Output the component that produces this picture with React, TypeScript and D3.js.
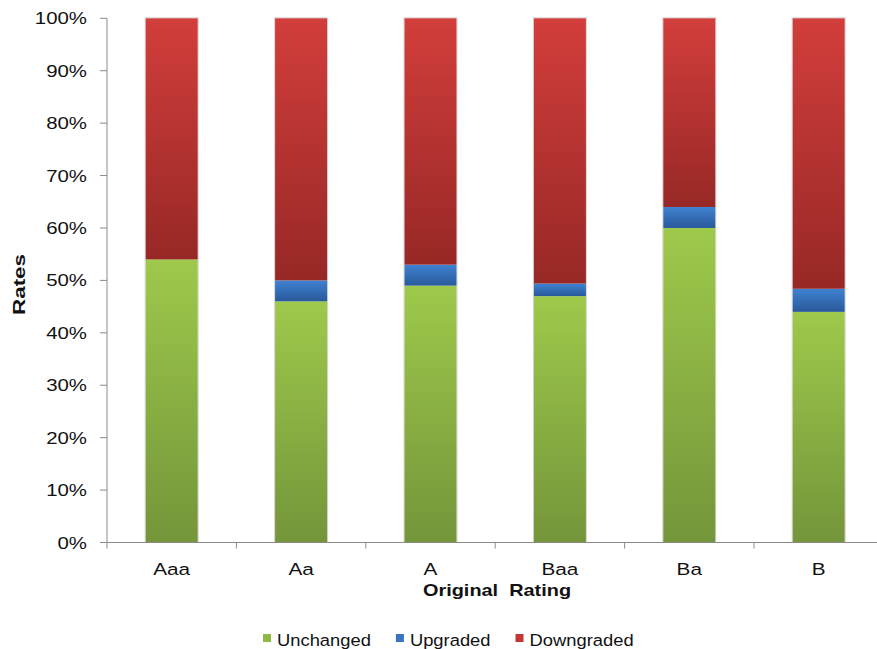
import React, { useEffect, useRef } from "react";
import * as d3 from "d3";

// Rating-migration shares (%) per original rating
const categories = ["Aaa", "Aa", "A", "Baa", "Ba", "B"];
const unchanged = [54, 46, 49, 47, 60, 44];
const upgraded = [0, 4, 4, 2.4, 4, 4.4];
const downgraded = [46, 50, 47, 50.6, 36, 51.6];
const seriesNames = ["Unchanged", "Upgraded", "Downgraded"];
const yTicks = [0, 10, 20, 30, 40, 50, 60, 70, 80, 90, 100];

const W = 877;
const H = 649;
const FONT = "'Liberation Sans', Arial, sans-serif";

const palette = [
  { light: "#9ec94b", dark: "#74953a", swatch: "#8cb844" },
  { light: "#3f82d2", dark: "#29599a", swatch: "#3a74bf" },
  { light: "#d23e3b", dark: "#972826", swatch: "#c43636" },
];

export default function App() {
  const ref = useRef<SVGSVGElement | null>(null);

  useEffect(() => {
    const svg = d3.select(ref.current);
    svg.selectAll("*").remove();

    const x = d3
      .scaleBand<string>()
      .domain(categories)
      .range([107, 883.4])
      .paddingInner(0.598)
      .paddingOuter(0.299);
    const y = d3.scaleLinear().domain([0, 100]).range([542.5, 18.3]);

    const defs = svg.append("defs");
    palette.forEach((p, i) => {
      const g = defs
        .append("linearGradient")
        .attr("id", `grad${i}`)
        .attr("x1", 0)
        .attr("y1", 0)
        .attr("x2", 0)
        .attr("y2", 1);
      g.append("stop").attr("offset", "0%").attr("stop-color", p.light);
      g.append("stop").attr("offset", "100%").attr("stop-color", p.dark);
    });

    const rows = categories.map((c, i) => ({
      cat: c,
      Unchanged: unchanged[i],
      Upgraded: upgraded[i],
      Downgraded: downgraded[i],
    }));
    const stacked = d3.stack<any>().keys(seriesNames)(rows);

    const axisColor = "#8a8a8a";

    // bar outlines (soft edge)
    svg
      .append("g")
      .selectAll("rect")
      .data(rows)
      .join("rect")
      .attr("x", (d) => x(d.cat)! - 0.5)
      .attr("y", y(100) - 0.5)
      .attr("width", x.bandwidth() + 1)
      .attr("height", y(0) - y(100) + 0.5)
      .attr("fill", "none")
      .attr("stroke", "#d4d4d4")
      .attr("stroke-width", 1);

    stacked.forEach((layer, si) => {
      svg
        .append("g")
        .selectAll("rect")
        .data(layer.filter((d) => d[1] - d[0] > 0))
        .join("rect")
        .attr("x", (d) => x(d.data.cat)!)
        .attr("y", (d) => y(d[1]))
        .attr("width", x.bandwidth())
        .attr("height", (d) => y(d[0]) - y(d[1]))
        .attr("fill", `url(#grad${si})`);
    });

    // y axis
    const ya = svg.append("g");
    ya.append("line")
      .attr("x1", 107)
      .attr("x2", 107)
      .attr("y1", y(100))
      .attr("y2", y(0))
      .attr("stroke", axisColor);
    yTicks.forEach((t) => {
      ya.append("line")
        .attr("x1", 100)
        .attr("x2", 107)
        .attr("y1", y(t))
        .attr("y2", y(t))
        .attr("stroke", axisColor);
      ya.append("text")
        .attr("transform", `translate(87,${y(t) + 6}) scale(1.2,1)`)
        .attr("text-anchor", "end")
        .attr("font-family", FONT)
        .attr("font-size", 17)
        .attr("fill", "#111")
        .text(`${t}%`);
    });

    // x axis
    const xa = svg.append("g");
    xa.append("line")
      .attr("x1", 107)
      .attr("x2", W)
      .attr("y1", y(0))
      .attr("y2", y(0))
      .attr("stroke", axisColor);
    const step = x.step();
    d3.range(categories.length + 1).forEach((i) => {
      const px = 107 + i * step;
      xa.append("line")
        .attr("x1", px)
        .attr("x2", px)
        .attr("y1", y(0))
        .attr("y2", y(0) + 6)
        .attr("stroke", axisColor);
    });
    categories.forEach((c) => {
      xa.append("text")
        .attr(
          "transform",
          `translate(${x(c)! + x.bandwidth() / 2},${y(0) + 32.5}) scale(1.22,1)`
        )
        .attr("text-anchor", "middle")
        .attr("font-family", FONT)
        .attr("font-size", 17)
        .attr("fill", "#111")
        .text(c);
    });

    // axis titles
    svg
      .append("text")
      .attr("transform", `translate(497,596) scale(1.17,1)`)
      .attr("text-anchor", "middle")
      .attr("font-family", FONT)
      .attr("font-size", 17)
      .attr("font-weight", "bold")
      .attr("fill", "#111")
      .attr("xml:space", "preserve")
      .text("Original  Rating");

    svg
      .append("text")
      .attr("transform", `translate(24.5,284.5) rotate(-90) scale(1.36,1)`)
      .attr("text-anchor", "middle")
      .attr("font-family", FONT)
      .attr("font-size", 16.5)
      .attr("font-weight", "bold")
      .attr("fill", "#111")
      .text("Rates");

    // legend
    const lg = svg.append("g");
    let cx = 263;
    const lscale = 1.08;
    seriesNames.forEach((name, i) => {
      lg.append("rect")
        .attr("x", cx)
        .attr("y", 634)
        .attr("width", 8)
        .attr("height", 8)
        .attr("fill", palette[i].swatch);
      const t = lg
        .append("text")
        .attr("transform", `translate(${cx + 14},646) scale(${lscale},1)`)
        .attr("font-family", FONT)
        .attr("font-size", 17)
        .attr("fill", "#111")
        .text(name);
      const w = (t.node() as SVGTextElement).getComputedTextLength() * lscale;
      cx = cx + 14 + w + 25;
    });
  }, []);

  return (
    <svg
      ref={ref}
      width={W}
      height={H}
      style={{ position: "absolute", left: 0, top: 0, background: "#fff" }}
    />
  );
}
